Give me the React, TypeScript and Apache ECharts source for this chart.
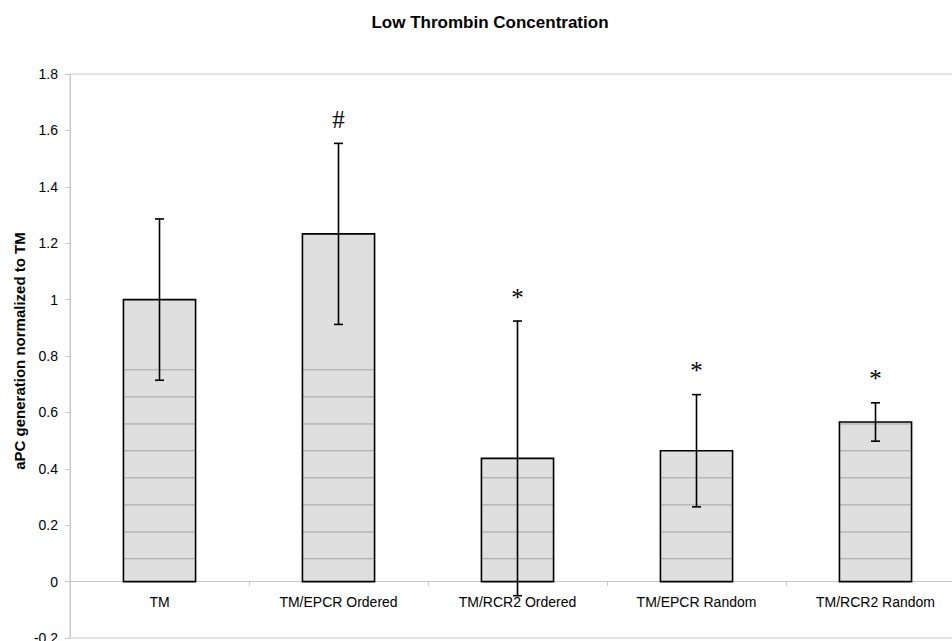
import React, { useEffect, useRef } from "react";
import * as echarts from "echarts";

// Groups on the x axis
const categories = [
  "TM",
  "TM/EPCR Ordered",
  "TM/RCR2 Ordered",
  "TM/EPCR Random",
  "TM/RCR2 Random",
];

// Mean aPC generation, normalized to TM
const means = [1.0, 1.233, 0.437, 0.464, 0.566];

// Half-width of each error bar
const errors = [0.286, 0.321, 0.487, 0.199, 0.068];

// Significance symbols drawn above the error bars
const marks = ["", "#", "*", "*", "*"];

// Levels of the faint shading lines inside the bars
const shadeLevels = [0.081, 0.176, 0.272, 0.368, 0.464, 0.559, 0.655, 0.751];

// Value axis range and step
const yMin = -0.2;
const yMax = 1.8;
const yStep = 0.2;

const SANS = "'Liberation Sans', Arial, sans-serif";
const SERIF = "'Liberation Serif', 'Times New Roman', serif";
const AXIS_GRAY = "#c8c8c8";

export default function App() {
  const ref = useRef<HTMLDivElement>(null);

  useEffect(() => {
    if (!ref.current) return;
    const chart = echarts.init(ref.current, undefined, { renderer: "svg" });

    const barData = means.map((m, i) => [i, m]);
    const errData = means.map((m, i) => [i, m - errors[i], m + errors[i]]);

    chart.setOption({
      animation: false,
      backgroundColor: "#ffffff",
      grid: {
        left: 70,
        top: 74,
        width: 895,
        height: 564,
        outerBoundsMode: "none",
        containLabel: false,
        show: true,
        borderColor: AXIS_GRAY,
        borderWidth: 1,
        backgroundColor: "transparent",
      },
      graphic: [
        {
          type: "text",
          x: 490,
          y: 22,
          style: {
            text: "Low Thrombin Concentration",
            font: `bold 17px ${SANS}`,
            fill: "#000",
            align: "center",
            verticalAlign: "middle",
          },
        },
        {
          type: "text",
          x: 19,
          y: 351,
          rotation: Math.PI / 2,
          style: {
            text: "aPC generation normalized to TM",
            font: `bold 15px ${SANS}`,
            fill: "#000",
            align: "center",
            verticalAlign: "middle",
          },
        },
      ],
      xAxis: {
        type: "category",
        data: categories,
        boundaryGap: true,
        axisLine: { show: true, onZero: true, lineStyle: { color: AXIS_GRAY, width: 1 } },
        axisTick: { show: true, length: 4, lineStyle: { color: AXIS_GRAY } },
        axisLabel: { show: false },
        splitLine: { show: false },
      },
      yAxis: {
        type: "value",
        min: yMin,
        max: yMax,
        interval: yStep,
        axisLine: { show: true, lineStyle: { color: AXIS_GRAY, width: 1 } },
        axisTick: { show: true, length: 5, lineStyle: { color: AXIS_GRAY } },
        axisLabel: {
          margin: 12,
          color: "#000",
          fontSize: 14,
          fontFamily: SANS,
        },
        splitLine: { show: false },
      },
      series: [
        {
          type: "custom",
          name: "bars",
          z: 2,
          encode: { x: 0, y: 1 },
          data: barData,
          renderItem: (params: any, api: any) => {
            const i = api.value(0);
            const v = api.value(1);
            const base = api.coord([i, 0]);
            const top = api.coord([i, v]);
            const w = api.size([1, 0])[0] * 0.403;
            const x0 = base[0] - w / 2;
            const children: any[] = [
              {
                type: "rect",
                shape: { x: x0, y: top[1], width: w, height: base[1] - top[1] },
                style: { fill: "#dfdfdf", stroke: "none" },
              },
            ];
            shadeLevels.forEach((lv) => {
              if (lv < v) {
                const p = api.coord([i, lv]);
                children.push({
                  type: "line",
                  shape: { x1: x0, y1: p[1], x2: x0 + w, y2: p[1] },
                  style: { stroke: "#a3a3a3", lineWidth: 1 },
                });
              }
            });
            children.push({
              type: "rect",
              shape: { x: x0, y: top[1], width: w, height: base[1] - top[1] },
              style: { fill: "none", stroke: "#000", lineWidth: 1.6 },
            });
            // category name sits just under the zero line
            children.push({
              type: "text",
              x: base[0],
              y: base[1] + 20,
              z2: 5,
              style: {
                text: categories[params.dataIndex],
                font: `14px ${SANS}`,
                fill: "#000",
                align: "center",
                verticalAlign: "middle",
              },
            });
            return { type: "group", children };
          },
        },
        {
          type: "custom",
          name: "errors",
          z: 3,
          encode: { x: 0, y: [1, 2] },
          data: errData,
          renderItem: (params: any, api: any) => {
            const i = api.value(0);
            const lo = api.coord([i, api.value(1)]);
            const hi = api.coord([i, api.value(2)]);
            const cap = 4.5;
            const stroke = { stroke: "#000", lineWidth: 1.6 };
            const children: any[] = [
              { type: "line", shape: { x1: lo[0], y1: lo[1], x2: hi[0], y2: hi[1] }, style: stroke },
              { type: "line", shape: { x1: hi[0] - cap, y1: hi[1], x2: hi[0] + cap, y2: hi[1] }, style: stroke },
              { type: "line", shape: { x1: lo[0] - cap, y1: lo[1], x2: lo[0] + cap, y2: lo[1] }, style: stroke },
            ];
            const mark = marks[params.dataIndex];
            if (mark) {
              children.push({
                type: "text",
                x: hi[0],
                y: hi[1] - 24,
                style: {
                  text: mark,
                  font: `25px ${SERIF}`,
                  fill: "#000",
                  align: "center",
                  verticalAlign: "middle",
                },
              });
            }
            return { type: "group", children };
          },
        },
      ],
    });

    return () => chart.dispose();
  }, []);

  return (
    <div
      ref={ref}
      style={{ position: "fixed", left: 0, top: 0, width: 952, height: 641 }}
    />
  );
}
